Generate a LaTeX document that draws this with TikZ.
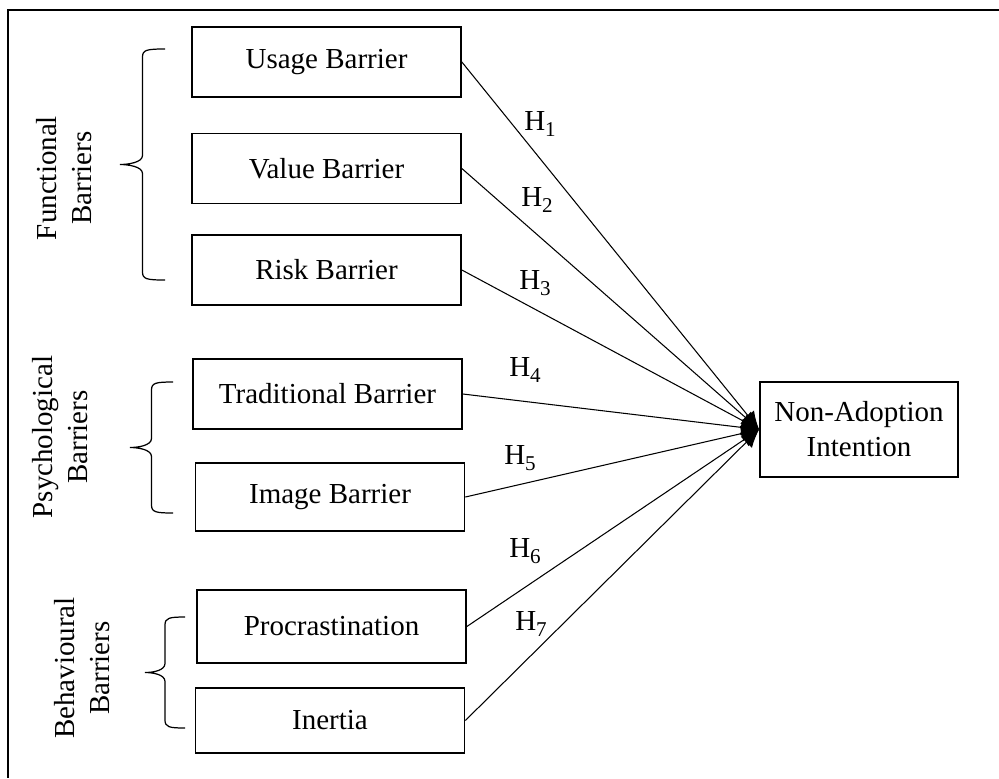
\documentclass[tikz,border=0pt]{standalone}
\usepackage{fontspec}
\setmainfont{Liberation Serif}
\usetikzlibrary{arrows.meta}
\newcommand{\hyp}[1]{H\raisebox{-0.45ex}{\fontsize{12}{12}\selectfont #1}}
% curly bracket: arm x, top y, bottom y, tip x
\newcommand{\curly}[4]{%
  \draw[bracket] (#1,#2) .. controls ({(#1+#4)/2+4},#2) and ({(#1+#4)/2},{#2+1}) .. ({(#1+#4)/2},{#2+8})
    -- ({(#1+#4)/2},{(#2+#3)/2-9}) .. controls ({(#1+#4)/2},{(#2+#3)/2-2}) and ({#4+8},{(#2+#3)/2}) .. (#4,{(#2+#3)/2})
    .. controls ({#4+8},{(#2+#3)/2}) and ({(#1+#4)/2},{(#2+#3)/2+2}) .. ({(#1+#4)/2},{(#2+#3)/2+9})
    -- ({(#1+#4)/2},{#3-8}) .. controls ({(#1+#4)/2},{#3-1}) and ({(#1+#4)/2+4},#3) .. (#1,#3);}

\begin{document}
\begin{tikzpicture}[
    x=0.02cm, y=-0.02cm,
    barrier/.style={
      draw=black,
      line width=1pt,
      minimum width=5.38cm,
      minimum height=1.4cm,
      inner sep=0pt,
      align=center,
      font=\fontsize{16.5}{20}\selectfont
    },
    group/.style={rotate=90, align=center, font=\fontsize{16.5}{19.5}\selectfont},
    hlabel/.style={font=\fontsize{16.5}{20}\selectfont},
    arrow/.style={-{Latex[length=3.6mm,width=3.2mm]}, line width=0.6pt},
    bracket/.style={line width=0.7pt}
  ]
  \useasboundingbox (0,0) rectangle (999,778);
  \draw[line width=1.1pt] (999,10) -- (8,10) -- (8,778);

  % barriers
  \node[barrier] (usage) at (326.5,62) {Usage Barrier};
  \node[barrier] (value) at (326.5,168.5) {Value Barrier};
  \node[barrier] (risk) at (326.5,270) {Risk Barrier};
  \node[barrier] (trad) at (327.5,394) {Traditional Barrier};
  \node[barrier,minimum height=1.36cm] (image) at (330,497) {Image Barrier};
  \node[barrier,minimum height=1.46cm] (procr) at (331.5,626.5) {Procrastination};
  \node[barrier,minimum height=1.3cm] (inertia) at (330,720.5) {Inertia};
  \node[barrier,minimum width=3.96cm,minimum height=1.9cm] (nai) at (859,429.5) {Non-Adoption\\Intention};

  % groups
  \node[group] (func) at (64,178) {Functional\\Barriers};
  \node[group] (psych) at (60,437) {Psychological\\Barriers};
  \node[group] (behav) at (82,668) {Behavioural\\Barriers};
  \curly{165}{49}{280}{120}
  \curly{173}{382}{513}{130}
  \curly{185}{617}{728}{145}

  % hypotheses
  \draw[arrow] (usage.east) -- (nai.west);
  \draw[arrow] (value.east) -- (nai.west);
  \draw[arrow] (risk.east) -- (nai.west);
  \draw[arrow] (trad.east) -- (nai.west);
  \draw[arrow] (image.east) -- (nai.west);
  \draw[arrow] (procr.east) -- (nai.west);
  \draw[arrow] (inertia.east) -- (nai.west);
  \node[hlabel] (h1) at (540,124) {\hyp{1}};
  \node[hlabel] (h2) at (537,200) {\hyp{2}};
  \node[hlabel] (h3) at (535,283) {\hyp{3}};
  \node[hlabel] (h4) at (525,370) {\hyp{4}};
  \node[hlabel] (h5) at (520,458) {\hyp{5}};
  \node[hlabel] (h6) at (525,551) {\hyp{6}};
  \node[hlabel] (h7) at (531,624) {\hyp{7}};
\end{tikzpicture}
\end{document}
